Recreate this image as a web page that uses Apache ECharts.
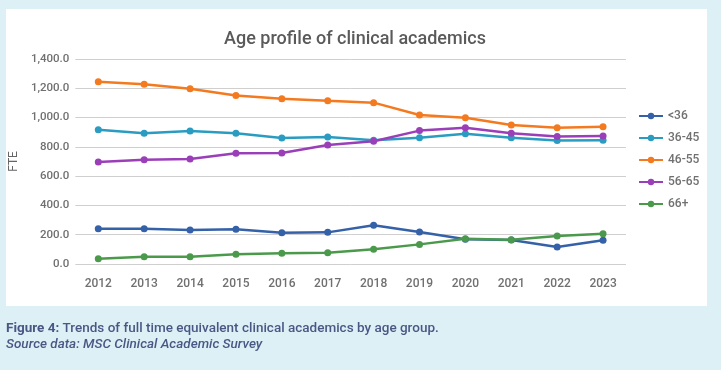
<!DOCTYPE html>
<html><head><meta charset="utf-8">
<script src="https://cdn.jsdelivr.net/npm/echarts@6/dist/echarts.min.js"></script>
<style>html,body{margin:0;padding:0;background:#dcf0f5;}#c{width:721px;height:370px;}</style>
</head><body><div id="c"></div>
<script>
const years = ['2012','2013','2014','2015','2016','2017','2018','2019','2020','2021','2022','2023'];
const u36 = [241,241,232,237,214,216,264,219,169,164,116,162];
const a36_45 = [917,893,908,893,861,867,845,863,890,863,843,845];
const a46_55 = [1245,1227,1197,1150,1129,1115,1102,1018,999,949,931,938];
const a56_65 = [697,712,717,756,758,813,838,911,931,893,870,874];
const a66p = [36,50,50,66,73,77,100,134,173,166,191,207];
const seriesNames = ['<36','36-45','46-55','56-65','66+'];
const seriesData = [u36,a36_45,a46_55,a56_65,a66p];
const colors = ['#3461a8','#2b9cc1','#f47a20','#9b3fb9','#4b9a4c'];

const chart = echarts.init(document.getElementById('c'));
const font = 'Roboto, "Noto Sans", sans-serif';
chart.setOption({
  backgroundColor: '#dcf0f5',
  textStyle: {fontFamily: font},
  graphic: [
    {type:'rect', shape:{x:6,y:9,width:701,height:297}, style:{fill:'#ffffff'}, z:-10},
    {type:'text', left:6, top:322, style:{
      text:'{b|Figure 4:} {n|Trends of full time equivalent clinical academics by age group.}',
      rich:{b:{fontWeight:'bold',fontSize:13.5,fill:'#4a5785',fontFamily:font},n:{fontSize:13.5,fontWeight:500,fill:'#4a5785',fontFamily:font}}
    }},
    {type:'text', left:6, top:338, style:{text:'Source data: MSC Clinical Academic Survey', fontStyle:'italic', fontWeight:500, fontSize:13.5, fill:'#4a5785', fontFamily:font}}
  ],
  title: {text:'Age profile of clinical academics', left:350, textAlign:'center', top:25,
    textStyle:{fontSize:18, fontWeight:500, color:'#5a5a5a', fontFamily:font}},
  color: colors,
  legend: {orient:'vertical', left:633, top:105, itemGap:10, itemWidth:24, itemHeight:8,
    textStyle:{color:'#707070', fontSize:12, fontWeight:500, fontFamily:font},
    data: seriesNames},
  grid: {left:73, right:95, top:59, bottom:106, containLabel:false},
  xAxis: {type:'category', data:years, boundaryGap:true,
    axisLine:{show:false}, axisTick:{show:false},
    axisLabel:{color:'#707070', fontSize:12, fontWeight:500, margin:14}},
  yAxis: {type:'value', min:0, max:1400, interval:200, name:'FTE', nameLocation:'middle', nameGap:46,
    nameTextStyle:{color:'#666666', fontSize:12},
    axisLabel:{color:'#707070', fontSize:11.5, fontWeight:500, margin:6,
      formatter: v => v.toLocaleString('en-US',{minimumFractionDigits:1,maximumFractionDigits:1})},
    splitLine:{lineStyle:{color:'#cfcfcf', width:1}}},
  series: seriesNames.map((n,i)=>({
    name:n, type:'line', data:seriesData[i], symbol:'circle', symbolSize:7,
    lineStyle:{width:2.5, color:colors[i]}, itemStyle:{color:colors[i]}
  }))
});
</script></body></html>
